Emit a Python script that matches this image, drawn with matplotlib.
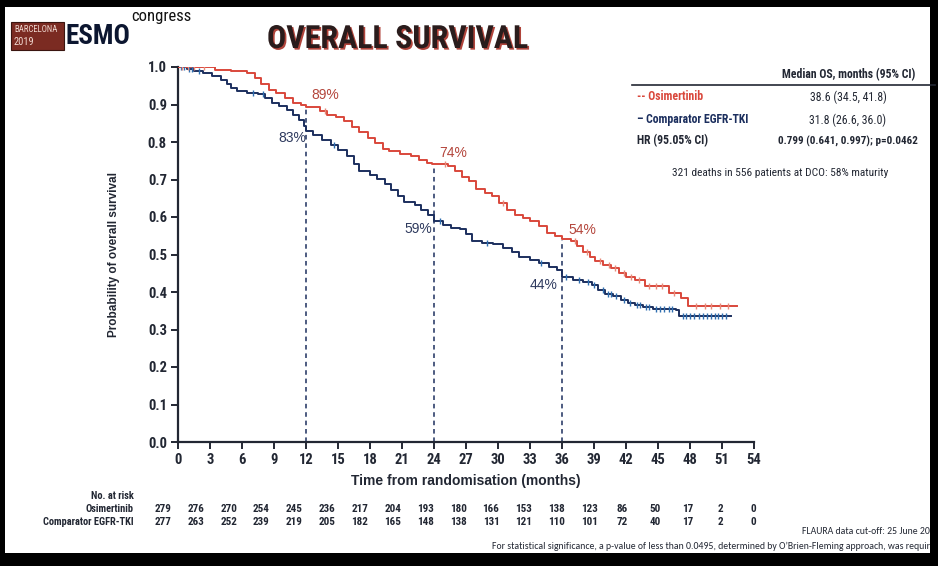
import numpy as np
import matplotlib
matplotlib.use("Agg")
from matplotlib import pyplot as plt
from matplotlib import font_manager
from matplotlib import patheffects
from matplotlib.patches import Rectangle

# Kaplan-Meier steps (months, probability after the step)
osi_months = [0, 3.5, 5.0, 6.5, 7.2, 7.8, 8.5, 9.2, 10.0, 10.8, 11.5, 12.0, 13.3, 14.0, 14.8,
              15.6, 16.3, 17.0, 17.8, 18.5, 19.2, 19.8, 20.8, 21.8, 22.6, 23.3, 23.8, 25.3,
              26.0, 26.6, 27.3, 27.9, 28.8, 29.4, 30.1, 30.8, 31.6, 32.3, 33.0, 33.8, 34.6,
              35.3, 36.0, 36.8, 37.4, 38.0, 38.6, 39.1, 39.8, 40.6, 41.3, 42.0, 42.8, 43.8,
              46.0, 47.2, 47.8, 52.4]
osi_surv = [1.0, 0.993, 0.99, 0.985, 0.97, 0.955, 0.94, 0.93, 0.918, 0.905, 0.898, 0.893,
            0.883, 0.873, 0.866, 0.855, 0.84, 0.828, 0.812, 0.797, 0.782, 0.775, 0.768,
            0.762, 0.752, 0.745, 0.742, 0.735, 0.722, 0.708, 0.695, 0.675, 0.665, 0.655,
            0.638, 0.618, 0.605, 0.597, 0.59, 0.575, 0.558, 0.548, 0.542, 0.535, 0.522,
            0.508, 0.494, 0.482, 0.472, 0.465, 0.45, 0.44, 0.432, 0.415, 0.398, 0.383,
            0.363, 0.363]

comp_months = [0, 0.8, 1.5, 2.3, 3.2, 4.0, 4.6, 5.0, 5.5, 6.5, 7.5, 8.2, 8.8, 9.5, 10.2,
               10.8, 11.3, 11.8, 12.0, 12.7, 13.5, 14.3, 15.0, 15.8, 16.5, 17.0, 18.0,
               18.7, 19.4, 20.0, 20.6, 21.2, 22.2, 22.8, 23.4, 24.0, 24.8, 25.6, 26.4,
               27.0, 27.6, 28.5, 29.5, 30.5, 31.3, 32.0, 33.0, 33.8, 34.8, 35.5, 36.0,
               37.0, 38.0, 38.8, 39.4, 40.0, 40.8, 41.5, 42.2, 42.8, 43.6, 44.5, 46.7,
               47.0, 51.8]
comp_surv = [1.0, 0.996, 0.99, 0.984, 0.975, 0.965, 0.955, 0.945, 0.935, 0.932, 0.928,
             0.918, 0.905, 0.895, 0.885, 0.872, 0.86, 0.843, 0.83, 0.818, 0.806, 0.793,
             0.778, 0.762, 0.742, 0.722, 0.712, 0.702, 0.688, 0.672, 0.656, 0.64, 0.632,
             0.62, 0.606, 0.59, 0.58, 0.572, 0.568, 0.555, 0.537, 0.532, 0.527, 0.518,
             0.508, 0.493, 0.485, 0.478, 0.468, 0.458, 0.44, 0.432, 0.428, 0.42, 0.405,
             0.396, 0.39, 0.38, 0.372, 0.366, 0.36, 0.356, 0.352, 0.336, 0.336]

# censoring marks
osi_censor = [0.4, 0.9, 1.5, 2.4, 13.8, 25.0, 30.5, 37.2, 38.3, 39.6, 40.4, 41.0, 41.8,
              42.5, 43.2, 44.2, 44.8, 45.4, 46.5, 48.6, 49.4, 50.0, 50.8, 51.6]
comp_censor = [0.3, 0.6, 1.0, 1.3, 2.0, 7.0, 8.0, 14.6, 24.6, 29.0, 34.0, 36.4, 37.6,
               38.4, 39.0, 39.8, 40.3, 40.6, 41.1, 41.8, 42.4, 43.0, 43.3, 43.9, 44.2,
               44.8, 45.2, 45.6, 46.0, 46.3, 47.3, 47.6, 48.0, 48.4, 48.8, 49.2, 49.6,
               50.0, 50.3, 50.6, 51.0, 51.4]

landmark_months = [12, 24, 36]
osi_landmark = [0.89, 0.74, 0.54]
comp_landmark = [0.83, 0.59, 0.44]
osi_labels = ["89%", "74%", "54%"]
comp_labels = ["83%", "59%", "44%"]

risk_months = list(range(0, 55, 3))
osi_risk = [279, 276, 270, 254, 245, 236, 217, 204, 193, 180, 166, 153, 138, 123, 86, 50, 17, 2, 0]
comp_risk = [277, 263, 252, 239, 219, 205, 182, 165, 148, 138, 131, 121, 110, 101, 72, 40, 17, 2, 0]

RED = "#d9473b"
NAVY = "#1c2f5e"
DARK = "#222733"
W, H = 938, 566


def pick_font(candidates):
    # first family that also has a bold face installed
    bold_names = {f.name for f in font_manager.fontManager.ttflist
                  if isinstance(f.weight, int) and f.weight >= 600 or f.weight == "bold"}
    for name in candidates:
        if name in bold_names:
            return name
    return "Liberation Sans"


NARROW = [pick_font(["Liberation Sans Narrow", "Arial Narrow", "Roboto Condensed",
                     "Archivo Narrow", "PT Sans Narrow", "Liberation Sans"]), "DejaVu Sans"]
WIDE = ["Liberation Sans", "DejaVu Sans"]
SMALL = [pick_font(["Carlito", "Calibri", "Lato", "Liberation Sans"]), "DejaVu Sans"]
plt.rcParams["font.family"] = NARROW


def fx(px):
    return px / W


def fy(py):
    return 1 - py / H


def step_value(months, surv, t):
    idx = np.searchsorted(months, t, side="right") - 1
    return np.asarray(surv)[idx]


fig = plt.figure(figsize=(W / 100, H / 100), dpi=100, facecolor="black")
# white slide on the black screen
fig.patches.append(Rectangle((fx(5), fy(553)), fx(925), (553 - 7) / H,
                             transform=fig.transFigure, facecolor="white",
                             edgecolor="none", zorder=-1))

ax = fig.add_axes([fx(178), fy(442), fx(754 - 178), (442 - 67) / H])
ax.set_facecolor("none")

ax.step(comp_months, comp_surv, where="post", color=NAVY, lw=1.4, zorder=3)
ax.step(osi_months, osi_surv, where="post", color=RED, lw=1.4, zorder=4)
ax.plot(comp_censor, step_value(comp_months, comp_surv, comp_censor), ls="none",
        marker="|", ms=5, mew=1.0, color="#2f6fb0", zorder=5)
ax.plot(osi_censor, step_value(osi_months, osi_surv, osi_censor), ls="none",
        marker="|", ms=5, mew=1.0, color="#e88a7a", zorder=5)

# landmark dashed lines + percentages
offsets_osi = [(1.8, 0.035), (1.8, 0.03), (1.9, 0.025)]
offsets_comp = [(-1.3, -0.02), (-1.5, -0.022), (-1.7, -0.021)]
for m, yo, yc, lo, lc, do, dc in zip(landmark_months, osi_landmark, comp_landmark,
                                     osi_labels, comp_labels, offsets_osi, offsets_comp):
    ax.plot([m, m], [0, yo], ls=(0, (3, 2.5)), color=NAVY, lw=1.1, zorder=2)
    ax.text(m + do[0], yo + do[1], lo, color="#b4463c", fontsize=10,
            ha="center", va="center", family=WIDE)
    ax.text(m + dc[0], yc + dc[1], lc, color="#2e3a5e", fontsize=10,
            ha="center", va="center", family=WIDE)

ax.set_xlim(0, 54)
ax.set_ylim(0, 1.0)
ax.set_xticks(risk_months)
ax.set_yticks(np.arange(0, 1.01, 0.1))
ax.set_yticklabels([f"{v:.1f}" for v in np.arange(0, 1.01, 0.1)])
for side in ["top", "right"]:
    ax.spines[side].set_visible(False)
for side in ["left", "bottom"]:
    ax.spines[side].set_color(DARK)
    ax.spines[side].set_linewidth(1.6)
ax.tick_params(direction="out", length=5, width=1.4, color=DARK, labelsize=10.5,
               labelcolor=DARK, pad=3)
for lbl in ax.get_xticklabels() + ax.get_yticklabels():
    lbl.set_fontweight("bold")
ax.set_xlabel("Time from randomisation (months)", fontsize=10, fontweight="bold",
              color=DARK, labelpad=5, family=WIDE)
ax.set_ylabel("Probability of overall survival", fontsize=8.5, fontweight="bold",
              color=DARK, labelpad=20, family=WIDE)

# title with a red shadow
fig.text(fx(398), fy(39), "OVERALL SURVIVAL", fontsize=23, fontweight="bold",
         color="#2a1c1c", ha="center", va="center",
         path_effects=[patheffects.SimplePatchShadow(offset=(1.2, -1.2),
                                                     shadow_rgbFace="#a83026", alpha=0.9),
                       patheffects.Normal()])

# ESMO logo
fig.patches.append(Rectangle((fx(11), fy(50)), fx(53), 28 / H, transform=fig.transFigure,
                             facecolor="#7b2b22", edgecolor="#3a1510", lw=0.8))
fig.text(fx(14), fy(30), "BARCELONA", fontsize=6.3, color="#f0d8d0", va="center")
fig.text(fx(14), fy(42), "2019", fontsize=7.5, color="#f0d8d0", va="center")
fig.text(fx(98), fy(36), "ESMO", fontsize=19.5, fontweight="bold", color="#0c1630",
         ha="center", va="center")
fig.text(fx(131), fy(17), "congress", fontsize=12, color="#111111", va="center")

# median OS table
fig.text(fx(849), fy(75), "Median OS, months (95% CI)", fontsize=8.5, fontweight="bold",
         color=DARK, ha="center", va="center")
fig.add_artist(plt.Line2D([fx(632), fx(935)], [fy(85), fy(85)], color=DARK, lw=1.2))
fig.text(fx(637), fy(97), "-- Osimertinib", fontsize=8.5, fontweight="bold", color=RED,
         va="center")
fig.text(fx(848), fy(97), "38.6 (34.5, 41.8)", fontsize=8.5, color=DARK, ha="center",
         va="center")
fig.text(fx(637), fy(120), "\u2013 Comparator EGFR-TKI", fontsize=8.5, fontweight="bold",
         color=NAVY, va="center")
fig.text(fx(848), fy(120), "31.8 (26.6, 36.0)", fontsize=8.5, color=DARK, ha="center",
         va="center")
fig.text(fx(637), fy(141), "HR (95.05% CI)", fontsize=8.5, fontweight="bold", color=DARK,
         va="center")
fig.text(fx(848), fy(141), "0.799 (0.641, 0.997); p=0.0462", fontsize=8,
         fontweight="bold", color=DARK, ha="center", va="center")
fig.text(fx(780), fy(173), "321 deaths in 556 patients at DCO: 58% maturity", fontsize=8.2,
         color=DARK, ha="center", va="center")

# number at risk
fig.text(fx(134), fy(496), "No. at risk", fontsize=7.5, fontweight="bold", color=DARK,
         ha="right", va="center")
fig.text(fx(134), fy(509), "Osimertinib", fontsize=7.5, fontweight="bold", color=DARK,
         ha="right", va="center")
fig.text(fx(134), fy(522), "Comparator EGFR-TKI", fontsize=7.5, fontweight="bold",
         color=DARK, ha="right", va="center")
for i, (a, b) in enumerate(zip(osi_risk, comp_risk)):
    x = fx(163 + i * 32.8)
    fig.text(x, fy(509), str(a), fontsize=8, fontweight="bold", color=DARK, ha="center",
             va="center")
    fig.text(x, fy(522), str(b), fontsize=8, fontweight="bold", color=DARK, ha="center",
             va="center")

# footnotes (cut off by the screen edge)
fig.text(fx(930), fy(532), "FLAURA data cut-off: 25 June 20", fontsize=7, color=DARK,
         ha="right", va="center", family=SMALL)
fig.text(fx(930), fy(546), "For statistical significance, a p-value of less than 0.0495, "
         "determined by O\u2019Brien-Fleming approach, was requir", fontsize=7, color=DARK,
         ha="right", va="center", family=SMALL)

fig.savefig("out.png", dpi=100, facecolor="black")
